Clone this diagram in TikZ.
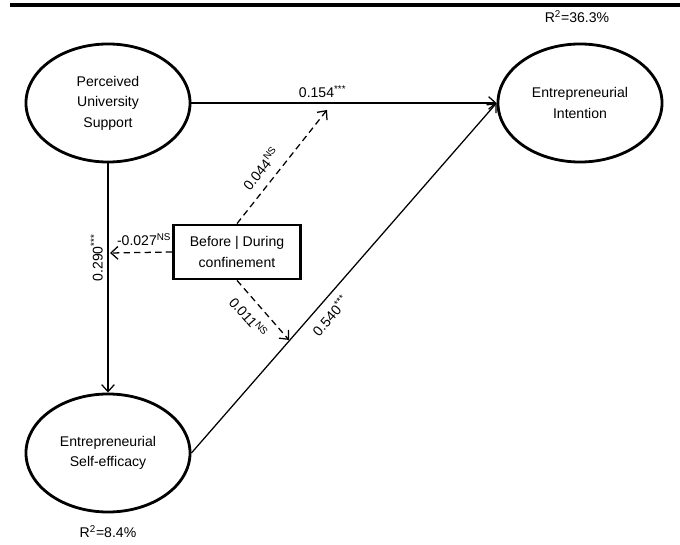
\documentclass[tikz,border=0pt]{standalone}
\usepackage{fontspec}
\setmainfont{Liberation Sans}
\usetikzlibrary{arrows.meta, positioning, shapes.geometric}

\begin{document}
\begin{tikzpicture}[x=0.025cm, y=-0.025cm,
    font=\fontsize{10pt}{14.5pt}\selectfont,
    construct/.style={ellipse, draw, line width=2pt, minimum width=4.1cm, minimum height=2.95cm, align=center},
    moderator/.style={rectangle, draw, line width=2pt, minimum width=3.175cm, minimum height=1.35cm, align=center},
    effect/.style={-{Straight Barb[length=5pt, width=9pt]}, line width=0.9pt},
    moderation/.style={effect, dash pattern=on 4.5pt off 3pt}]
    \useasboundingbox (0,0) rectangle (680,545);
    % rule at the top
    \draw[line width=2.8pt] (10,5) -- (680,5);

    % Constructs of the model
    \node[construct] (pus) at (108,103) {Perceived\\University\\Support};
    \node[construct] (ei) at (580,103) {Entrepreneurial\\Intention};
    \node[construct] (ese) at (108,453) {Entrepreneurial\\Self-efficacy};
    \node[moderator] (conf) at (237,252) {Before | During\\confinement};

    \node (r2ei) at (577,17) {R\textsuperscript{2}=36.3\%};
    \node (r2ese) at (108,532) {R\textsuperscript{2}=8.4\%};

    % Ends of the moderating arrows
    \coordinate (m1) at (110,253);
    \coordinate (m2) at (327,110);
    \coordinate (m3) at (289,340);

    % Draw paths
    \draw[effect] (pus) -- (ei) node[pos=0.43, above] {0.154\textsuperscript{***}};
    \draw[effect] (pus) -- (ese) node[pos=0.43, rotate=90, above=3pt] {0.290\textsuperscript{***}};
    \draw[effect] (ese.east) -- (ei.west) node[pos=0.42, sloped, below=2pt] {0.540\textsuperscript{***}};

    \draw[moderation] (conf.west) -- (m1) node[pos=0.45, above=1pt] {-0.027\textsuperscript{NS}};
    \draw[moderation] (conf.north) -- (m2) node[pos=0.4, sloped, above=3pt] {0.044\textsuperscript{NS}};
    \draw[moderation] (conf.south) -- (m3) node[pos=0.45, sloped, below=3pt] {0.011\textsuperscript{NS}};
\end{tikzpicture}
\end{document}
